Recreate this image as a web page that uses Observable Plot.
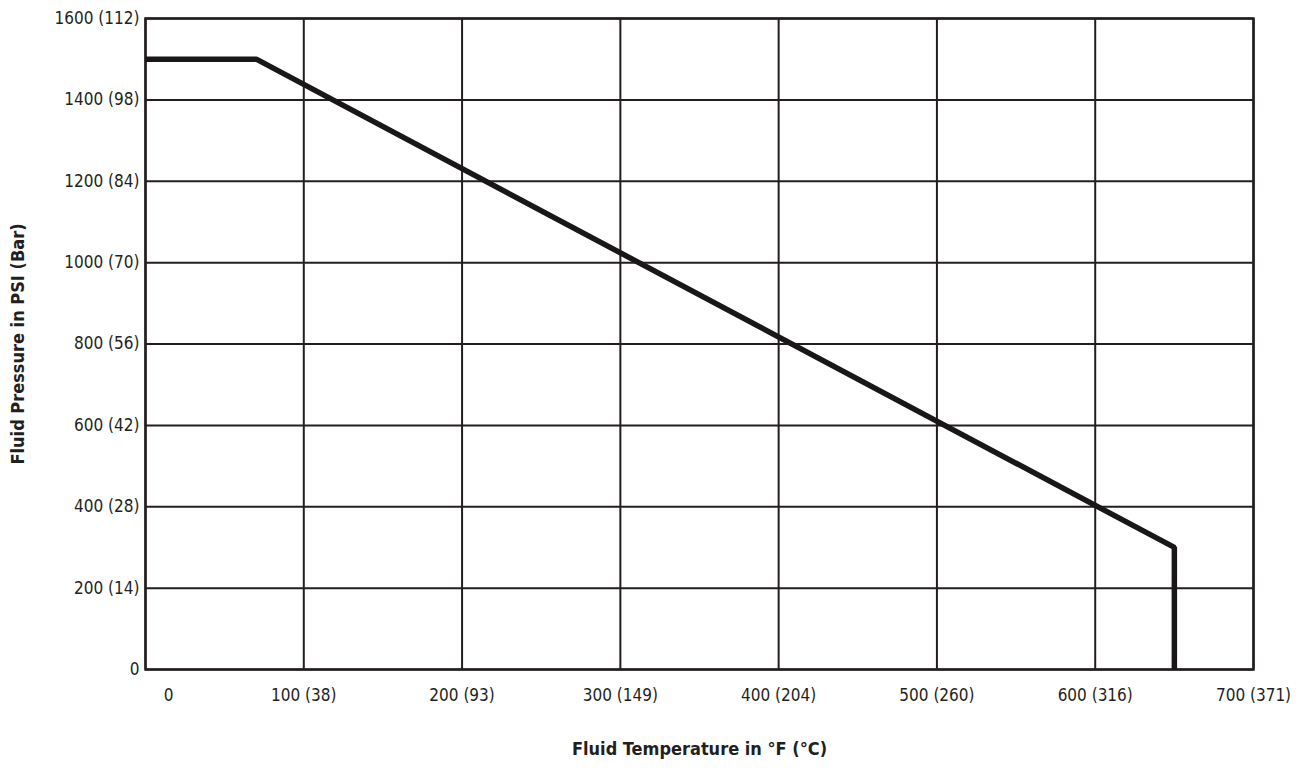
<!DOCTYPE html>
<html>
<head>
<meta charset="utf-8">
<script src="https://cdn.jsdelivr.net/npm/d3@7"></script>
<script src="https://cdn.jsdelivr.net/npm/@observablehq/plot@0.6"></script>
<style>
  html, body { margin: 0; padding: 0; background: #fff; }
  #chart { width: 1303px; height: 777px; }
</style>
</head>
<body>
<div id="chart"></div>
<script>
// Data
const tempTicks = [0, 100, 200, 300, 400, 500, 600, 700];
const tempLabels = ["0", "100 (38)", "200 (93)", "300 (149)", "400 (204)", "500 (260)", "600 (316)", "700 (371)"];
const pressTicks = [0, 200, 400, 600, 800, 1000, 1200, 1400, 1600];
const pressLabels = ["0", "200 (14)", "400 (28)", "600 (42)", "800 (56)", "1000 (70)", "1200 (84)", "1400 (98)", "1600 (112)"];
const curveTemp = [0, 70, 650, 650];
const curvePress = [1500, 1500, 300, 0];
const xTitle = "Fluid Temperature in °F (°C)";
const yTitle = "Fluid Pressure in PSI (Bar)";

const ink = "#231f20";
const font = "'DejaVu Sans Condensed', 'DejaVu Sans', sans-serif";
const curve = curveTemp.map((t, i) => ({t, p: curvePress[i]}));

const chart = Plot.plot({
  width: 1303,
  height: 777,
  marginLeft: 145,
  marginRight: 50,
  marginTop: 18,
  marginBottom: 108,
  x: {domain: [0, 700], axis: null},
  y: {domain: [0, 1600], axis: null},
  style: {fontFamily: font, color: ink, background: "#fff", overflow: "visible"},
  marks: [
    Plot.gridX(tempTicks, {stroke: ink, strokeOpacity: 1, strokeWidth: 2}),
    Plot.gridY(pressTicks, {stroke: ink, strokeOpacity: 1, strokeWidth: 2}),
    Plot.frame({stroke: ink, strokeWidth: 2.5}),
    Plot.line(curve, {x: "t", y: "p", stroke: "#1a1718", strokeWidth: 5.5, strokeLinejoin: "miter", strokeLinecap: "butt"}),
    // y tick labels
    Plot.text(pressTicks, {
      x: 0, y: d => d, text: (d, i) => pressLabels[i],
      textAnchor: "end", dx: -6, fontSize: 17, fill: ink
    }),
    // x tick labels
    Plot.text(tempTicks, {
      filter: (d, i) => i > 0,
      x: d => d, y: 0, text: d => tempLabels[tempTicks.indexOf(d)],
      dy: 26, fontSize: 17, fill: ink
    }),
    Plot.text(tempTicks, {
      filter: (d, i) => i === 0,
      x: d => d, y: 0, text: d => tempLabels[tempTicks.indexOf(d)],
      dy: 26, dx: 23, fontSize: 17, fill: ink
    }),
    // axis titles
    Plot.text([xTitle], {frameAnchor: "bottom", text: d => d, dy: 85, fontSize: 18, fontWeight: "bold", fill: ink}),
    Plot.text([yTitle], {frameAnchor: "left", textAnchor: "middle", text: d => d, dx: -127, rotate: -90, fontSize: 18, fontWeight: "bold", fill: ink})
  ]
});
document.getElementById("chart").appendChild(chart);
</script>
</body>
</html>
